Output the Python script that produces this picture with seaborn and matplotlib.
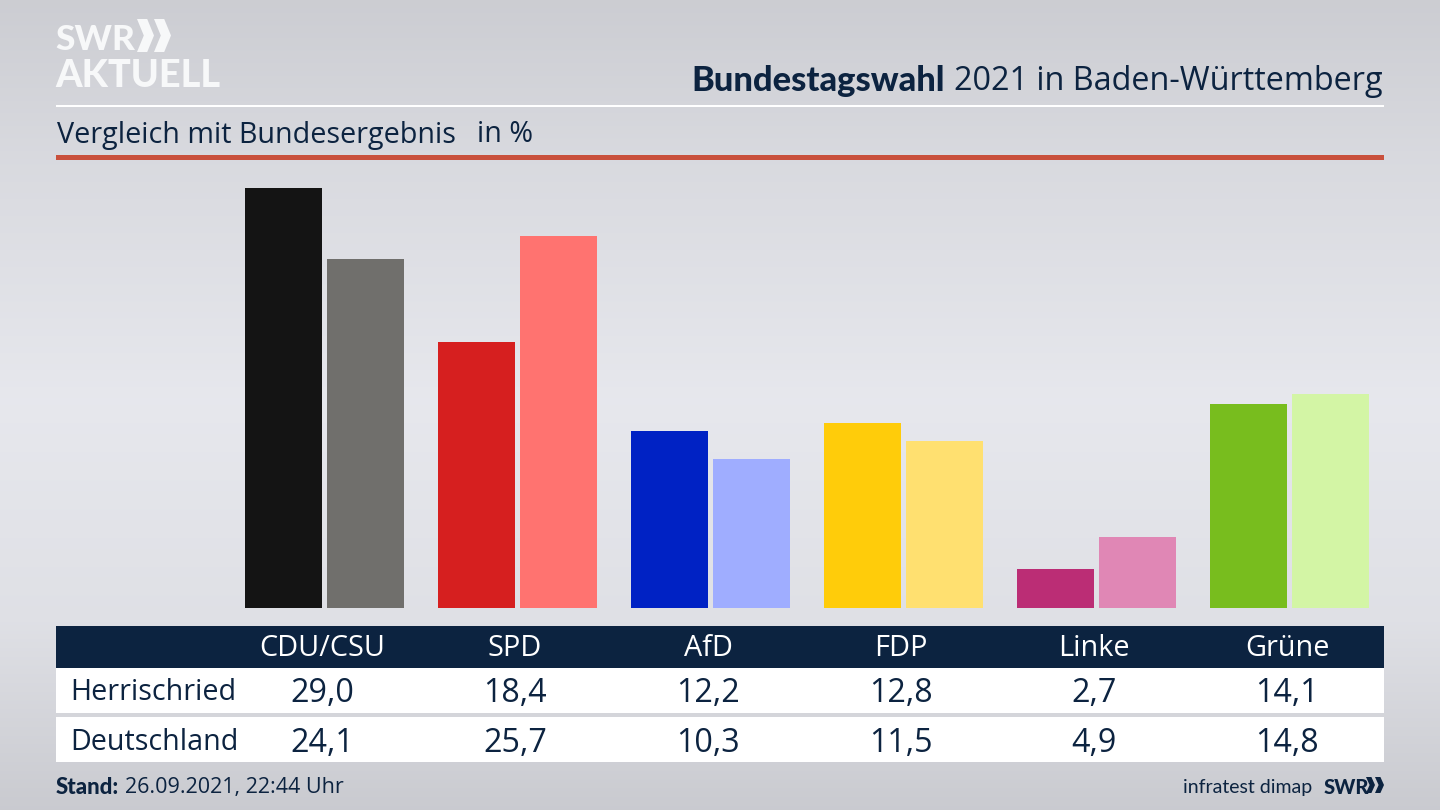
import numpy as np
import pandas as pd
import matplotlib
matplotlib.use("Agg")
import matplotlib.pyplot as plt
from matplotlib.patches import Rectangle, Polygon
import seaborn as sns

parties = ["CDU/CSU", "SPD", "AfD", "FDP", "Linke", "Grüne"]
herrischried = [29.0, 18.4, 12.2, 12.8, 2.7, 14.1]
deutschland = [24.1, 25.7, 10.3, 11.5, 4.9, 14.8]
colors_local = ["#141414", "#d61f1f", "#0022c4", "#ffcc0a", "#bb2d75", "#78bd1e"]
colors_federal = ["#706f6c", "#ff7370", "#9fadff", "#ffe070", "#e087b5", "#d3f5a5"]

NAVY = "#0c2340"
LOGO = "#f7f8f9"
BOLD_FONT = ["Lato", "DejaVu Sans"]


def draw_background(bg):
    """Soft grey gradient behind everything, in pixel coordinates"""
    stops_y = [0, 160, 400, 620, 810]
    stops_v = [0.80, 0.85, 0.905, 0.875, 0.79]
    column = np.interp(np.arange(810), stops_y, stops_v)
    shade = np.stack([column, column + 0.004, column + 0.025], axis=1)[:, None, :]
    bg.imshow(np.clip(shade, 0, 1), extent=(0, 1440, 810, 0), aspect="auto", zorder=0)
    bg.set_xlim(0, 1440)
    bg.set_ylim(810, 0)
    bg.axis("off")


def chevrons(bg, x, y, w, h, color):
    """Two arrow heads of the SWR logo"""
    t = w * 0.30
    for off in (0, w * 0.50):
        pts = [(x + off, y), (x + off + t, y), (x + off + w * 0.50, y + h / 2),
               (x + off + t, y + h), (x + off, y + h), (x + off + w * 0.20, y + h / 2)]
        bg.add_patch(Polygon(pts, closed=True, facecolor=color, edgecolor="none", zorder=3))


def draw_header(bg):
    bg.text(55, 50, "SWR", fontsize=25.5, fontweight="black", family=BOLD_FONT, color=LOGO, ha="left")
    chevrons(bg, 137, 19, 34, 33, LOGO)
    bg.text(55, 87, "AKTUELL", fontsize=27.3, fontweight="black", family=BOLD_FONT, color=LOGO, ha="left")

    title = bg.text(1383, 81, "2021 in Baden-Württemberg", fontsize=23.3, color=NAVY, va="center", ha="right")
    bg.figure.canvas.draw()
    box = title.get_window_extent().transformed(bg.transData.inverted())
    bg.text(box.x0 - 9, 81, "Bundestagswahl", fontsize=24.8, fontweight="black", family=BOLD_FONT,
            color=NAVY, va="center", ha="right")

    bg.add_patch(Rectangle((56, 104.5), 1328, 2.5, facecolor="white", edgecolor="none", zorder=2))
    bg.text(57, 135, "Vergleich mit Bundesergebnis", fontsize=20.7, color=NAVY, va="center", ha="left")
    bg.text(477, 135, "in %", fontsize=20.7, color=NAVY, va="center", ha="left")
    bg.add_patch(Rectangle((56, 155), 1328, 5, facecolor="#c9503c", edgecolor="none", zorder=2))


def draw_table(bg):
    bg.add_patch(Rectangle((56, 626), 1328, 42, facecolor=NAVY, edgecolor="none", zorder=2))
    bg.add_patch(Rectangle((56, 668), 1328, 45, facecolor="white", edgecolor="none", zorder=2))
    bg.add_patch(Rectangle((56, 717), 1328, 45, facecolor="white", edgecolor="none", zorder=2))

    bg.text(70, 693, "Herrischried", fontsize=20.6, color=NAVY, va="center", ha="left", zorder=4)
    bg.text(70, 742, "Deutschland", fontsize=20.6, color=NAVY, va="center", ha="left", zorder=4)
    for i, party in enumerate(parties):
        cx = 322 + 193 * i
        bg.text(cx, 649, party, fontsize=20.8, color="white", va="center", ha="center", zorder=4)
        bg.text(cx, 694, f"{herrischried[i]:.1f}".replace(".", ","), fontsize=23.2, color=NAVY,
                va="center", ha="center", zorder=4)
        bg.text(cx, 743, f"{deutschland[i]:.1f}".replace(".", ","), fontsize=23.2, color=NAVY,
                va="center", ha="center", zorder=4)


def draw_footer(bg):
    label = bg.text(56, 788, "Stand:", fontsize=16, fontweight="black", family=BOLD_FONT,
                    color=NAVY, va="center", ha="left")
    bg.figure.canvas.draw()
    box = label.get_window_extent().transformed(bg.transData.inverted())
    bg.text(box.x1 + 6, 788, "26.09.2021, 22:44 Uhr", fontsize=15.5, color=NAVY, va="center", ha="left")
    bg.text(1312, 787, "infratest dimap", fontsize=14, family=BOLD_FONT, color=NAVY, va="center", ha="right")
    bg.text(1324, 788, "SWR", fontsize=14.5, fontweight="black", family=BOLD_FONT, color=NAVY, va="center", ha="left")
    chevrons(bg, 1366, 777, 18, 16, NAVY)


def draw_bars(ax):
    df = pd.DataFrame({
        "party": parties * 2,
        "value": herrischried + deutschland,
        "region": ["Herrischried"] * 6 + ["Deutschland"] * 6,
    })
    sns.barplot(data=df, x="party", y="value", hue="region", ax=ax, width=0.85, gap=0.06,
                legend=False, saturation=1)
    for container, colors in zip(ax.containers, [colors_local, colors_federal]):
        for bar, color in zip(container, colors):
            bar.set_facecolor(color)
            bar.set_edgecolor("none")

    # x: group pitch 193 px, first group at 324.8 px; y: 14.48 px per percent
    ax.set_xlim((56 - 324.8) / 193, (1384 - 324.8) / 193)
    ax.set_ylim(0, 448 / 14.48)
    ax.axis("off")


def main():
    sns.set_style("white")
    plt.rcParams["font.family"] = ["Open Sans", "DejaVu Sans"]

    fig = plt.figure(figsize=(14.4, 8.1), dpi=100)
    bg = fig.add_axes([0, 0, 1, 1])
    draw_background(bg)
    draw_header(bg)
    draw_table(bg)
    draw_footer(bg)

    ax = fig.add_axes([56 / 1440, (810 - 608) / 810, 1328 / 1440, 448 / 810])
    ax.patch.set_alpha(0)
    draw_bars(ax)

    fig.savefig("out.png", dpi=100)
    plt.close(fig)


if __name__ == "__main__":
    main()
